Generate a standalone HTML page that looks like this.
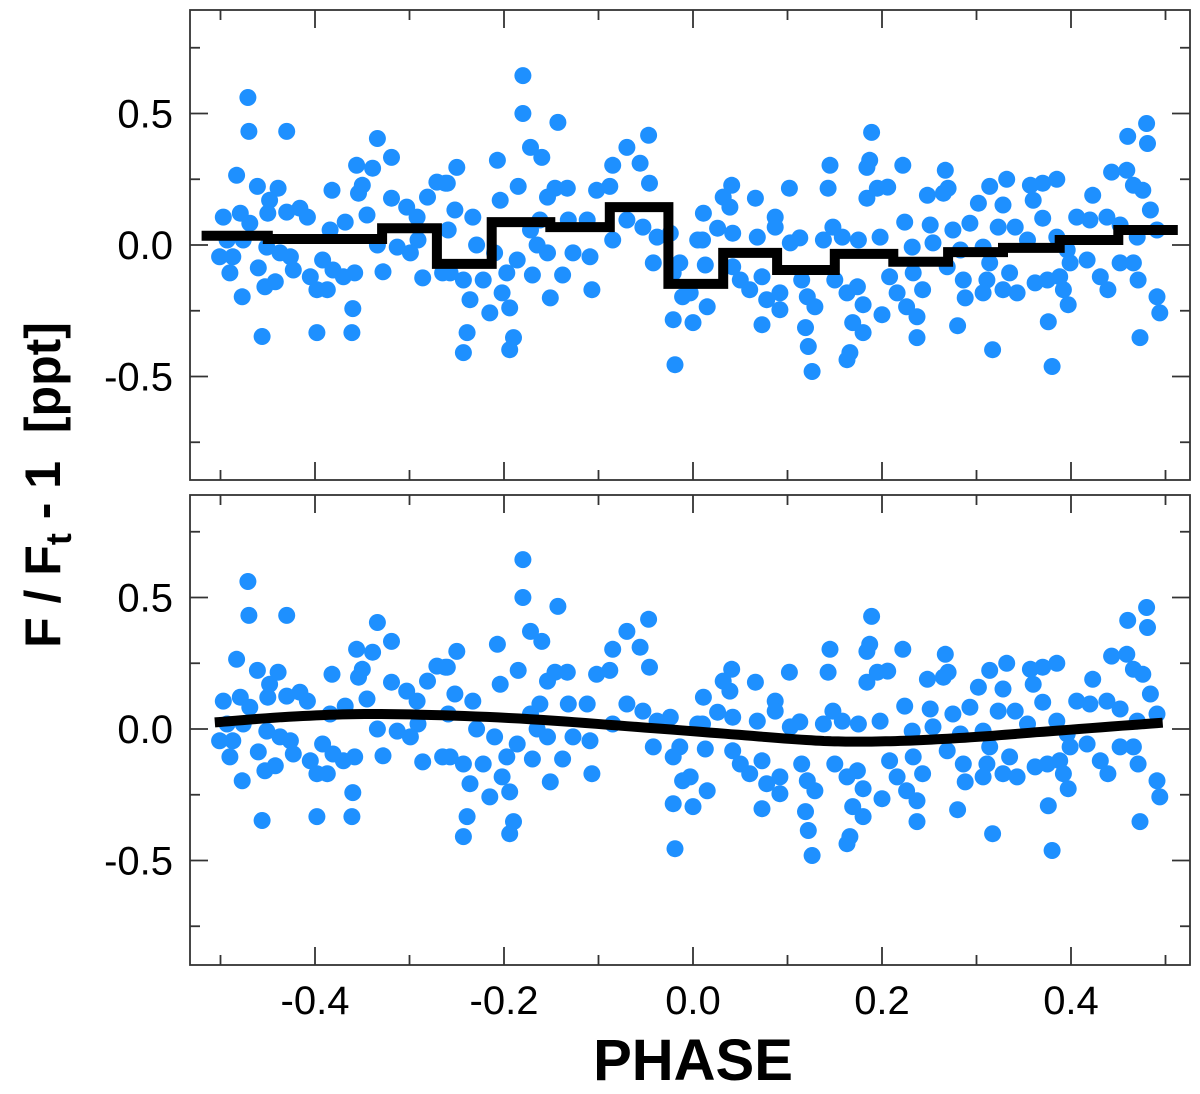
<!DOCTYPE html>
<html><head><meta charset="utf-8"><style>
html,body{margin:0;padding:0;background:#fff;}
svg{display:block;font-family:"Liberation Sans",Arial,sans-serif;}
</style></head><body>
<svg id="chart" width="1200" height="1094" viewBox="0 0 1200 1094" xmlns="http://www.w3.org/2000/svg">
<text transform="translate(60,485) rotate(-90)" text-anchor="middle" font-size="50" font-weight="bold" xml:space="preserve" style="white-space:pre">F / F<tspan font-size="36" dy="11">t</tspan><tspan dy="-11"> - 1  [ppt]</tspan></text>
<text x="693" y="1080" text-anchor="middle" font-size="58" font-weight="bold">PHASE</text>
</svg>
<script>
const pointPhase = [-0.471,-0.470,-0.430,-0.334,-0.319,-0.483,-0.461,-0.382,-0.356,-0.339,-0.350,-0.354,-0.439,-0.448,-0.497,-0.479,-0.469,-0.450,-0.430,-0.416,-0.408,-0.368,-0.384,-0.345,-0.319,-0.303,-0.292,-0.281,-0.271,-0.260,-0.291,-0.493,-0.476,-0.501,-0.487,-0.490,-0.451,-0.437,-0.426,-0.423,-0.460,-0.453,-0.442,-0.477,-0.405,-0.398,-0.387,-0.392,-0.381,-0.370,-0.358,-0.334,-0.328,-0.313,-0.299,-0.286,-0.360,-0.456,-0.398,-0.361,-0.265,
-0.180,-0.180,-0.143,-0.172,-0.160,-0.207,-0.250,-0.262,-0.185,-0.204,-0.154,-0.146,-0.133,-0.047,-0.070,-0.085,-0.056,-0.046,-0.102,-0.088,-0.252,-0.233,-0.259,-0.229,-0.210,-0.162,-0.172,-0.165,-0.154,-0.132,-0.112,-0.127,-0.109,-0.085,-0.070,-0.053,-0.038,-0.024,0.005,-0.257,-0.243,-0.222,-0.186,-0.197,-0.202,-0.236,-0.194,-0.215,-0.170,-0.138,-0.151,-0.107,-0.042,-0.014,-0.021,-0.011,-0.021,0.000,-0.239,-0.243,-0.190,-0.194,-0.019,
0.189,0.145,0.143,0.187,0.184,0.195,0.206,0.184,0.222,0.267,0.102,0.041,0.032,0.039,0.066,0.248,0.265,0.011,0.010,0.026,0.042,0.068,0.087,0.087,0.103,0.113,0.138,0.148,0.158,0.175,0.198,0.224,0.232,0.251,0.254,0.013,0.042,0.050,0.060,0.073,0.078,0.092,0.092,0.115,0.121,0.129,0.150,0.163,0.174,0.180,0.208,0.216,0.226,0.237,0.233,0.243,-0.003,0.015,0.073,0.119,0.122,0.126,0.169,0.180,0.166,0.163,0.200,0.237,
0.480,0.460,0.481,0.270,0.443,0.459,0.466,0.476,0.314,0.332,0.357,0.370,0.385,0.360,0.423,0.302,0.328,0.293,0.275,0.323,0.341,0.370,0.354,0.385,0.406,0.420,0.438,0.452,0.484,0.491,0.470,0.307,0.283,0.269,0.286,0.288,0.314,0.311,0.307,0.328,0.343,0.335,0.362,0.375,0.388,0.392,0.399,0.417,0.431,0.439,0.396,0.452,0.466,0.471,0.491,0.494,0.397,0.280,0.376,0.317,0.380,0.473];
const pointFlux = [0.561,0.432,0.432,0.405,0.333,0.265,0.223,0.208,0.303,0.292,0.227,0.197,0.216,0.170,0.106,0.121,0.083,0.121,0.125,0.140,0.106,0.087,0.057,0.114,0.178,0.144,0.106,0.182,0.239,0.235,0.019,0.019,0.019,-0.045,-0.045,-0.106,-0.008,-0.030,-0.045,-0.095,-0.087,-0.159,-0.140,-0.197,-0.121,-0.170,-0.170,-0.057,-0.095,-0.121,-0.106,0.000,-0.102,-0.008,-0.030,-0.125,-0.242,-0.348,-0.333,-0.333,-0.106,
0.644,0.500,0.466,0.371,0.333,0.322,0.295,0.235,0.223,0.170,0.182,0.216,0.216,0.417,0.371,0.303,0.311,0.235,0.208,0.223,0.133,0.106,0.057,0.000,-0.030,0.095,0.057,0.000,-0.030,0.095,0.095,-0.030,-0.045,0.019,0.095,0.068,0.030,0.045,0.019,-0.106,-0.133,-0.133,-0.057,-0.106,-0.182,-0.208,-0.239,-0.258,-0.114,-0.114,-0.201,-0.170,-0.068,-0.068,-0.106,-0.197,-0.284,-0.295,-0.333,-0.409,-0.352,-0.398,-0.455,
0.428,0.303,0.216,0.322,0.295,0.216,0.220,0.178,0.303,0.284,0.216,0.227,0.182,0.144,0.178,0.189,0.197,0.121,0.019,0.064,0.045,0.030,0.106,0.068,0.008,0.027,0.019,0.068,0.030,0.019,0.030,0.087,-0.008,0.076,0.008,-0.076,-0.083,-0.133,-0.170,-0.121,-0.208,-0.182,-0.246,-0.133,-0.197,-0.235,-0.133,-0.182,-0.159,-0.227,-0.121,-0.182,-0.235,-0.273,-0.106,-0.170,-0.182,-0.235,-0.303,-0.314,-0.386,-0.481,-0.295,-0.333,-0.409,-0.436,-0.265,-0.352,
0.462,0.413,0.386,0.216,0.277,0.284,0.227,0.208,0.223,0.250,0.227,0.235,0.250,0.170,0.189,0.159,0.152,0.083,0.057,0.068,0.068,0.102,0.019,0.030,0.106,0.095,0.106,0.076,0.133,0.057,0.030,-0.008,-0.019,-0.083,-0.133,-0.201,-0.068,-0.133,-0.182,-0.170,-0.182,-0.106,-0.144,-0.133,-0.121,-0.170,-0.068,-0.057,-0.121,-0.170,-0.019,-0.068,-0.068,-0.133,-0.197,-0.258,-0.227,-0.307,-0.292,-0.398,-0.462,-0.352];
const binEdges = [-0.52,-0.45,-0.39,-0.329,-0.271,-0.213,-0.151,-0.088,-0.026,0.032,0.089,0.150,0.212,0.270,0.328,0.388,0.450,0.513];
const binLevels = [0.035,0.023,0.023,0.064,-0.072,0.087,0.068,0.144,-0.148,-0.030,-0.095,-0.034,-0.064,-0.027,-0.011,0.019,0.057];
const curvePhase = [-0.506,-0.420,-0.330,-0.195,-0.060,0.041,0.120,0.170,0.230,0.300,0.379,0.497];
const curveFlux = [0.025,0.048,0.057,0.042,0.008,-0.020,-0.042,-0.048,-0.044,-0.030,-0.008,0.024];
const xTicks = [-0.4,-0.2,0.0,0.2,0.4];
const xTickLabels = ["-0.4","-0.2","0.0","0.2","0.4"];
const yTicks = [0.5,0.0,-0.5];
const yTickLabels = ["0.5","0.0","-0.5"];

const NS="http://www.w3.org/2000/svg";
const svg=document.getElementById('chart');
const L=190,R=1190;
const xScale=p=>693+p*945;
function mk(tag,attrs,parent){const e=document.createElementNS(NS,tag);for(const k in attrs)e.setAttribute(k,attrs[k]);(parent||svg).appendChild(e);return e;}
function spline(xs,ys,n){
  const out=[];
  for(let i=0;i<xs.length-1;i++){
    const x0=xs[Math.max(i-1,0)],y0=ys[Math.max(i-1,0)],x1=xs[i],y1=ys[i],x2=xs[i+1],y2=ys[i+1],x3=xs[Math.min(i+2,xs.length-1)],y3=ys[Math.min(i+2,xs.length-1)];
    for(let j=0;j<n;j++){const t=j/n,t2=t*t,t3=t2*t;
      const f=(a,b,c,d)=>0.5*(2*b+(-a+c)*t+(2*a-5*b+4*c-d)*t2+(-a+3*b-3*c+d)*t3);
      out.push([f(x0,x1,x2,x3),f(y0,y1,y2,y3)]);}
  }
  out.push([xs[xs.length-1],ys[ys.length-1]]);return out;
}
function panel(top,bottom,zeroY,name,withLabels,kind){
  const yScale=v=>zeroY-v*263;
  const g=mk('g',{});
  
  
  const pg=mk('g',{fill:'#1E90FF'},g);
  
  
  for(let i=0;i<pointPhase.length;i++){
    const c=mk('circle',{cx:xScale(pointPhase[i]).toFixed(1),cy:yScale(pointFlux[i]).toFixed(1),r:8.5},pg);
    
    
  }
  if(kind==='step'){
    let d='';
    for(let i=0;i<binLevels.length;i++){
      const y=yScale(binLevels[i]).toFixed(1);
      d+=(i===0?'M':'L')+xScale(binEdges[i]).toFixed(1)+','+y+'L'+xScale(binEdges[i+1]).toFixed(1)+','+y;
    }
    const p=mk('path',{d:d,fill:'none',stroke:'#000','stroke-width':10,'stroke-linejoin':'miter'},g);
    
    
  } else {
    const pts=spline(curvePhase,curveFlux,12);
    const d=pts.map((q,i)=>(i?'L':'M')+xScale(q[0]).toFixed(1)+','+yScale(q[1]).toFixed(1)).join('');
    const p=mk('path',{d:d,fill:'none',stroke:'#000','stroke-width':10},g);
    
    
  }
  const fr=mk('rect',{x:L,y:top,width:R-L,height:bottom-top,fill:'none',stroke:'#333','stroke-width':1.8},g);
  
  
  for(let v=-0.75;v<=0.751;v+=0.25){
    const y=yScale(v),major=Math.abs(v*2-Math.round(v*2))<1e-6;
    const len=major?18:10;
    mk('line',{x1:L,x2:L+len,y1:y,y2:y,stroke:'#333','stroke-width':1.8},g);
    mk('line',{x1:R,x2:R-len,y1:y,y2:y,stroke:'#333','stroke-width':1.8},g);
  }
  yTicks.forEach((v,i)=>{
    const t=mk('text',{x:173,y:yScale(v)+14,'text-anchor':'end','font-size':40},g);
    t.textContent=yTickLabels[i];
    
    
  });
  for(let k=-5;k<=5;k++){
    const p=k/10,x=xScale(p),major=(k%2===0);
    const len=major?18:10;
    mk('line',{x1:x,x2:x,y1:bottom,y2:bottom-len,stroke:'#333','stroke-width':1.8},g);
    mk('line',{x1:x,x2:x,y1:top,y2:top+len,stroke:'#333','stroke-width':1.8},g);
  }
  if(withLabels){
    xTicks.forEach((v,i)=>{
      const t=mk('text',{x:xScale(v),y:1014,'text-anchor':'middle','font-size':40},g);
      t.textContent=xTickLabels[i];
      
      
    });
  }
}
panel(10,480,245,'top-panel',false,'step');
panel(495,965,729,'bottom-panel',true,'curve');
</script>
</body></html>
